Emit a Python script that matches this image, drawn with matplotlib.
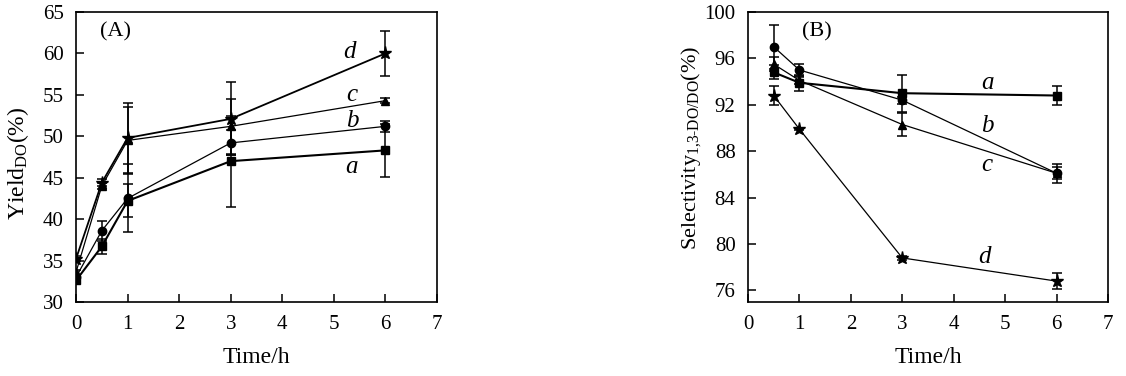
import matplotlib
matplotlib.use("Agg")
from matplotlib import pyplot as plt

plt.rcParams['font.family'] = ['Liberation Serif', 'DejaVu Serif']
plt.rcParams['mathtext.fontset'] = 'custom'
plt.rcParams['mathtext.rm'] = 'Liberation Serif'
plt.rcParams['mathtext.it'] = 'Liberation Serif:italic'
plt.rcParams['font.size'] = 12

# (A) yield vs time
time_a = [0, 0.5, 1, 3, 6]
yield_a = [32.6, 36.7, 42.2, 47.0, 48.3]
yield_b = [33.0, 38.6, 42.5, 49.2, 51.2]
yield_c = [33.6, 44.0, 49.5, 51.2, 54.3]
yield_d = [35.2, 44.4, 49.8, 52.1, 60.0]
yerr_a = [0.3, 0.9, 2.0, 5.5, 3.2]
yerr_b = [0.3, 1.2, 4.1, 1.5, 0.7]
yerr_c = [0.3, 0.4, 4.0, 3.3, 0.3]
yerr_d = [0.3, 0.4, 4.2, 4.4, 2.7]

# (B) selectivity vs time
time_b = [0.5, 1, 3, 6]
sel_a = [94.8, 93.9, 93.0, 92.8]
sel_b = [97.0, 95.0, 92.4, 86.1]
sel_c = [95.5, 94.1, 90.3, 86.1]
sel_d = [92.8, 89.9, 78.8, 76.8]
serr_a = [0.6, 0.7, 1.6, 0.8]
serr_b = [1.9, 0.5, 0.3, 0.8]
serr_c = [0.6, 0.3, 1.0, 0.5]
serr_d = [0.8, 0.1, 0.2, 0.7]

markers = ['s', 'o', '^', '*']
names = ['a', 'b', 'c', 'd']

fig = plt.figure(figsize=(11.26, 3.76), dpi=100)
ax1 = fig.add_axes([0.0675, 0.1968, 0.3206, 0.7713])
ax2 = fig.add_axes([0.6643, 0.1968, 0.3197, 0.7713])

for y, e, m, lw in zip([yield_a, yield_b, yield_c, yield_d],
                       [yerr_a, yerr_b, yerr_c, yerr_d], markers,
                       [1.5, 0.9, 0.9, 1.3]):
    ax1.errorbar(time_a, y, yerr=e, color='black', marker=m,
                 markersize=9.5 if m == '*' else 6, lw=lw,
                 elinewidth=1.1, capsize=3.5, capthick=1.1)

for y, e, m, lw in zip([sel_a, sel_b, sel_c, sel_d],
                       [serr_a, serr_b, serr_c, serr_d], markers,
                       [1.5, 0.9, 0.9, 0.9]):
    ax2.errorbar(time_b, y, yerr=e, color='black', marker=m,
                 markersize=9.5 if m == '*' else 6, lw=lw,
                 elinewidth=1.1, capsize=3.5, capthick=1.1)

# curve labels
lab_a_x = [5.35, 5.35, 5.35, 5.3]
lab_a_y = [46.3, 51.9, 55.0, 60.2]
for n, x, y in zip(names, lab_a_x, lab_a_y):
    ax1.text(x, y, n, style='italic', fontsize=18, ha='center', va='center')

lab_b_x = [4.65, 4.65, 4.65, 4.6]
lab_b_y = [93.9, 90.2, 86.8, 78.9]
for n, x, y in zip(names, lab_b_x, lab_b_y):
    ax2.text(x, y, n, style='italic', fontsize=18, ha='center', va='center')

ax1.text(0.11, 0.93, '(A)', transform=ax1.transAxes, fontsize=16,
         ha='center', va='center')
ax2.text(0.19, 0.93, '(B)', transform=ax2.transAxes, fontsize=16,
         ha='center', va='center')

ax1.set_xlim(0, 7)
ax1.set_ylim(30, 65)
ax1.set_yticks(range(30, 66, 5))
ax2.set_xlim(0, 7)
ax2.set_ylim(75, 100)
ax2.set_yticks(range(76, 101, 4))

for ax in (ax1, ax2):
    ax.set_xticks(range(0, 8))
    ax.tick_params(direction='in', length=6, width=1.1, labelsize=15,
                   top=False, right=False, pad=9)
    for s in ax.spines.values():
        s.set_linewidth(1.2)
    ax.set_xlabel('Time/h', fontsize=17, labelpad=10)

ax1.set_ylabel(r'Yield$_{\mathrm{DO}}$(%)', fontsize=17)
ax1.yaxis.set_label_coords(-0.125, 0.48)
ax2.set_ylabel(r'Selectivity$_{\text{1,3-DO/DO}}$(%)', fontsize=16)
ax2.yaxis.set_label_coords(-0.125, 0.53)

fig.savefig('out.png', dpi=100)
